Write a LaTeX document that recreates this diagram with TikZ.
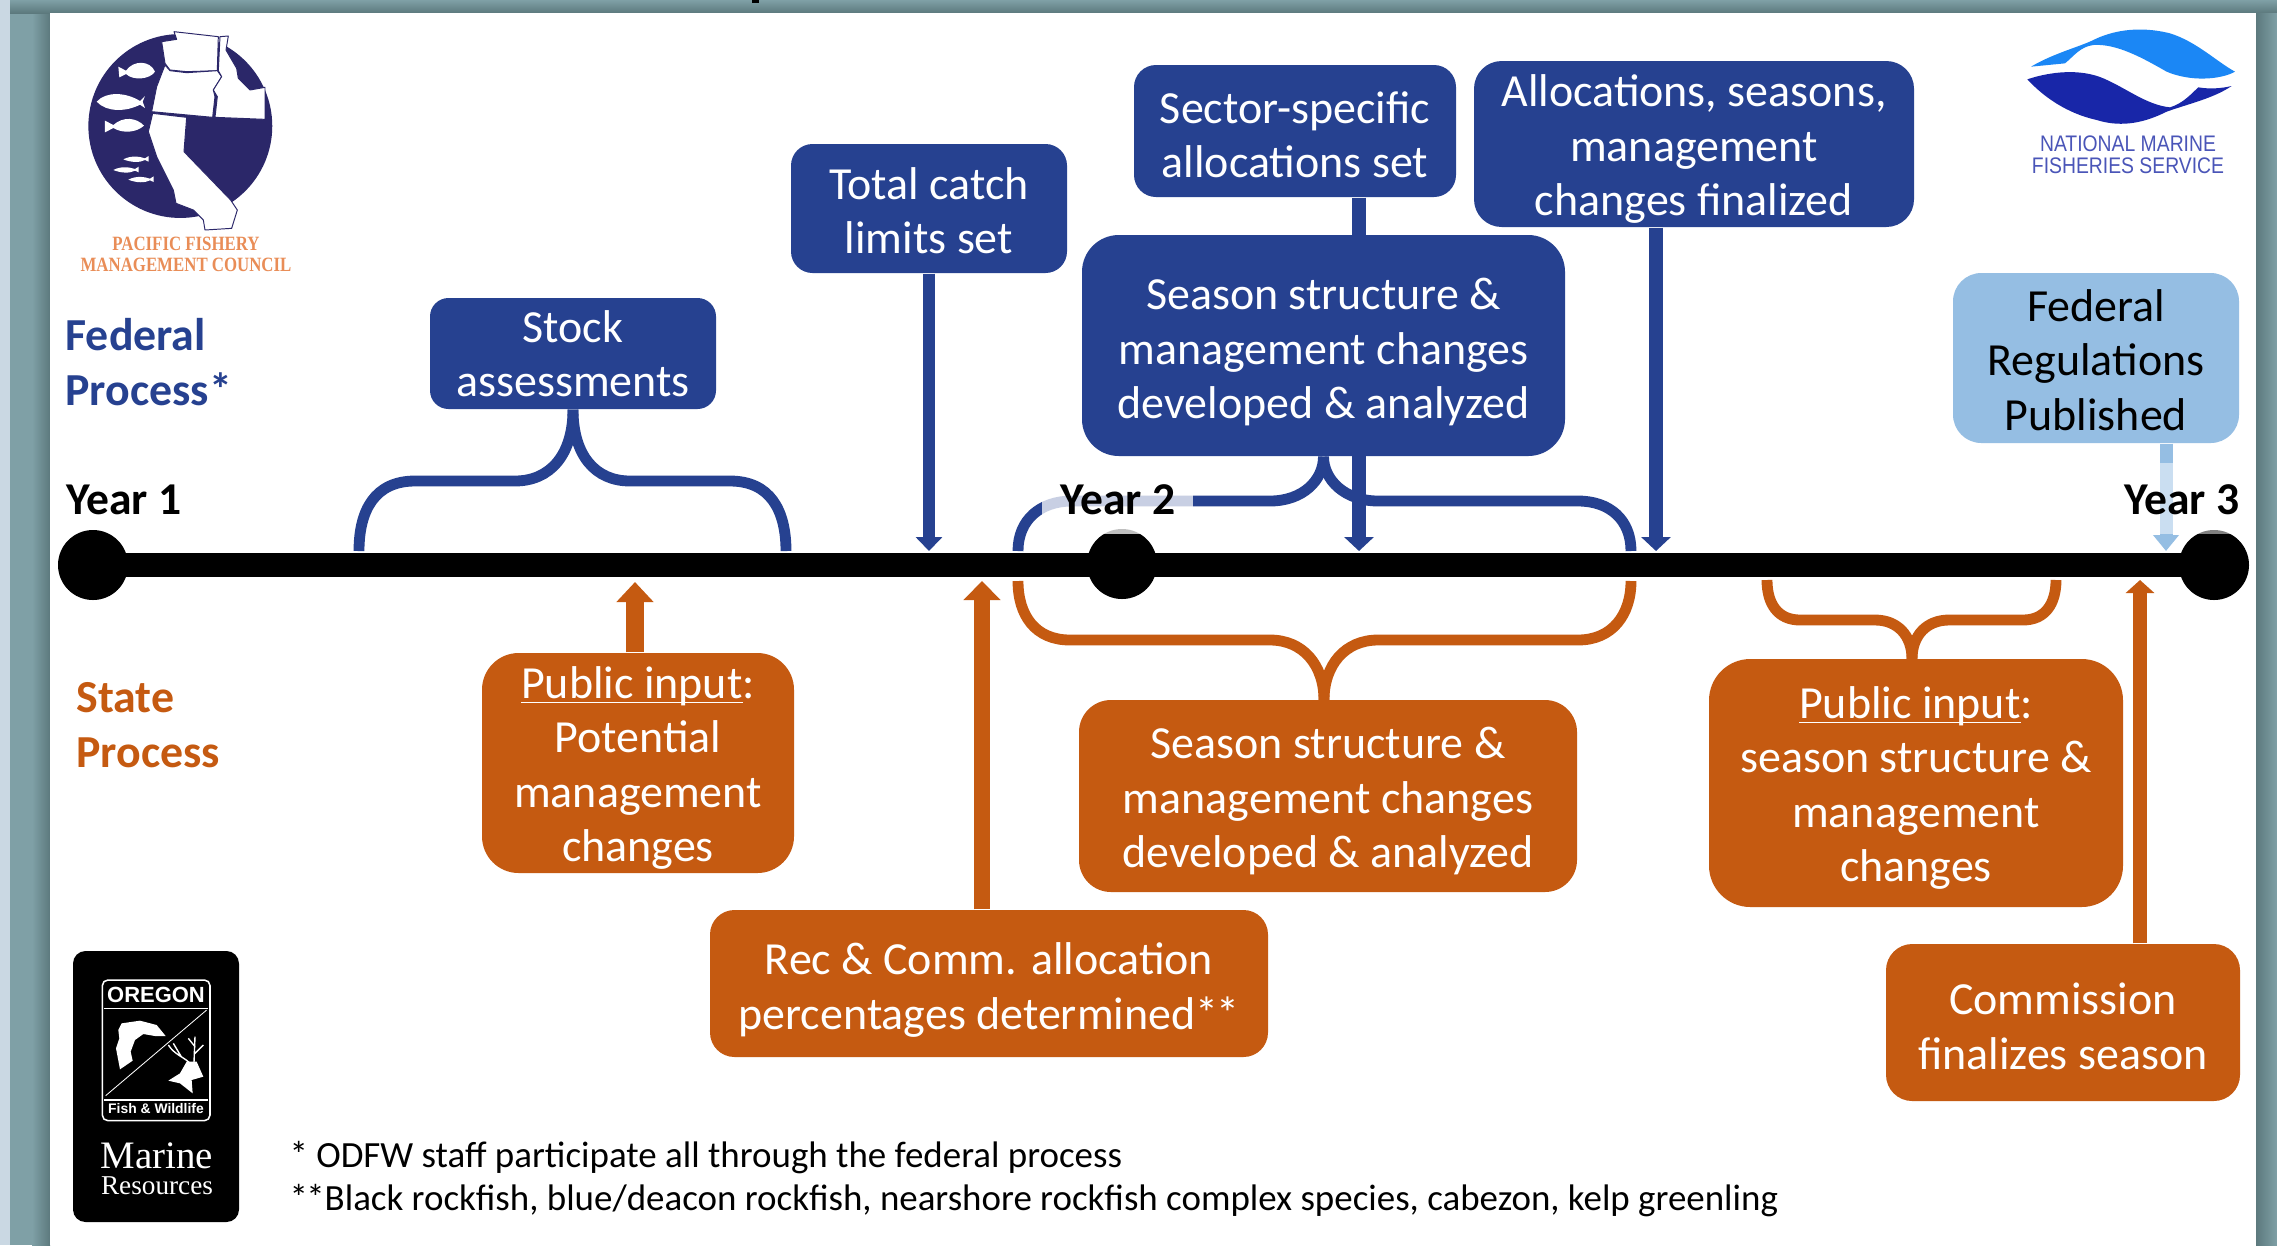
\documentclass[tikz,border=0pt]{standalone}
\usepackage{fontspec}
\setmainfont{Carlito}
\newfontfamily\lsans{Liberation Sans}
\newfontfamily\lserif{Liberation Serif}
\newfontfamily\pfmcfont[FakeStretch=.83]{Liberation Serif}
\newfontfamily\nmfsfont[FakeStretch=.86]{Liberation Sans}
\usetikzlibrary{arrows.meta}
\definecolor{fedblue}{HTML}{264190}
\definecolor{stateor}{HTML}{C55A11}
\definecolor{pubblue}{HTML}{95BEE3}
\definecolor{teal1}{HTML}{7FA0A6}
\definecolor{teal2}{HTML}{5C797D}
\definecolor{strip}{HTML}{CAD8E3}
\definecolor{pfmc}{HTML}{2B2769}
\definecolor{pfmcor}{HTML}{E98D57}
\definecolor{nmfsl}{HTML}{1B87F5}
\definecolor{nmfsd}{HTML}{1826A8}
\definecolor{nmfst}{HTML}{4A55B8}
\newcommand\dnr[1]{\rule{0pt}{\dimexpr12pt+#1\relax}}
\newcommand\pubul[1]{\underline{\smash{#1}}}
\tikzset{
  x=.36pt,y=-.36pt,
  sz/.style 2 args={minimum width=#1*.36pt,minimum height=#2*.36pt,rounded corners=#2*.06pt},
  tbox/.style={inner sep=0pt,align=center,text=white,font=\fontsize{16.55}{19.6}\selectfont},
  fedbox/.style={tbox,fill=fedblue},
  statebox/.style={tbox,fill=stateor},
  pubbox/.style={tbox,fill=pubblue,text=black},
  yearlbl/.style={inner sep=0pt,font=\fontsize{16.4}{19.6}\bfseries\selectfont},
  sidelbl/.style={inner sep=0pt,anchor=west,align=left,font=\fontsize{16.5}{19.6}\bfseries\selectfont},
  brc/.style={line width=3.9pt,line cap=butt},
  arr/.style n args={4}{line width=#1*.36pt,-{Triangle[length=#2*.36pt,width=#3*.36pt]},draw=#4},
  veil/.style={fill=white,fill opacity=#1,draw=none},
  lg/.style={fill=white,draw=pfmc,line width=.35pt,line join=round},
  fishw/.style={fill=white,draw=none},
  yeardot/.style={circle,fill=black,inner sep=0pt,minimum size=25.2pt},
}
\begin{document}
\begin{tikzpicture}
\useasboundingbox (0,0) rectangle (2277,1245);
% window background
\fill[teal1] (0,0) rectangle (2277,1245);
\fill[strip] (0,0) rectangle (10,1245);
\shade[left color=teal1,right color=teal2] (32,0) rectangle (50,1245);
\shade[top color=teal1,bottom color=teal2] (10,0) rectangle (2277,13);
\shade[left color=teal2,right color=teal1] (2256,13) rectangle (2277,1245);
\fill[white] (50,13) rectangle (2256,1245);
\fill[black] (752,0) rectangle (759,3);

% connectors under the boxes
\coordinate (tipStock) at (929,551);
\coordinate (tipSeason) at (1359,551);
\coordinate (tipAlloc) at (1656,551);
\coordinate (tipFed) at (2166,551);
\coordinate (tipPub) at (635,582);
\coordinate (tipRec) at (982,581);
\coordinate (tipCom) at (2140,580);

% boxes
\node[fedbox,sz={286}{111}] (stock) at (573,353.5) {Stock\\assessments};
\node[fedbox,sz={276}{129}] (catch) at (929,208.5) {\dnr{1pt}Total catch\\limits set};
\node[fedbox,sz={322}{132}] (sector) at (1295,131) {\dnr{2.1pt}Sector-specific\\allocations set};
\node[fedbox,sz={440}{166}] (alloc) at (1694,144) {\dnr{3.2pt}Allocations, seasons,\\management\\changes finalized};
\node[pubbox,sz={286}{170}] (regs) at (2096,358) {\dnr{1pt}Federal\\Regulations\\Published};
\node[statebox,sz={312}{220}] (pub1) at (638,763) {\dnr{3.2pt}\pubul{Public input}:\\Potential\\management\\changes};
\node[statebox,sz={558}{147}] (rec) at (989,983.5) {\dnr{4.2pt}Rec \& Comm. allocation\\percentages determined*\kern-.6pt*};
\node[statebox,sz={498}{192}] (sstate) at (1328,796) {\dnr{3.2pt}Season structure \&\\management changes\\developed \& analyzed};
\node[statebox,sz={414}{248}] (pub2) at (1916,783) {\dnr{3.2pt}\pubul{Public input}:\\season structure \&\\management\\changes};
\node[statebox,sz={354}{157}] (comm) at (2063,1022.5) {\dnr{2.1pt}Commission\\finalizes season};

% arrows
\draw[arr={14}{14}{29}{fedblue}] (sector.south -| tipSeason) -- (tipSeason);
\node[fedbox,sz={483}{221}] (sfed) at (1323.5,345.5) {\dnr{4.2pt}Season structure \&\\management changes\\developed \& analyzed};
\draw[arr={12}{14}{26}{fedblue}] (catch.south) -- (tipStock);
\draw[arr={14}{14}{29}{fedblue}] (alloc.south -| tipAlloc) -- (tipAlloc);
\draw[arr={13}{16}{25}{pubblue}] (regs.south -| tipFed) -- (tipFed);
\draw[arr={18}{20}{36}{stateor}] (pub1.north -| tipPub) -- (tipPub);
\draw[arr={16}{19}{36}{stateor}] (rec.north -| tipRec) -- (tipRec);
\draw[arr={14}{13}{28}{stateor}] (comm.north -| tipCom) -- (tipCom);

% braces
\coordinate (b1l) at (359,551); \coordinate (b1r) at (786,551);
\draw[brc,fedblue] (b1l) .. controls (359,510) and (375,481) .. (415,481) -- (515,481) .. controls (550,481) and (573,455) .. (stock.south);
\draw[brc,fedblue] (b1r) .. controls (786,510) and (770,481) .. (730,481) -- (630,481) .. controls (595,481) and (573,455) .. (stock.south);
\coordinate (b2l) at (1018,551); \coordinate (b2r) at (1631,551);
\draw[brc,fedblue] (b2l) .. controls (1018,520) and (1040,501) .. (1072,501) -- (1270,501) .. controls (1303,501) and (1323.5,480) .. (sfed.south);
\draw[brc,fedblue] (b2r) .. controls (1631,520) and (1610,501) .. (1578,501) -- (1378,501) .. controls (1345,501) and (1323.5,480) .. (sfed.south);
\coordinate (o1l) at (1018,581); \coordinate (o1r) at (1631,581);
\coordinate (o1a) at (1324,700);
\draw[brc,stateor] (o1l) .. controls (1018,615) and (1035,640) .. (1070,640) -- (1270,640) .. controls (1303,640) and (1324,665) .. (o1a);
\draw[brc,stateor] (o1r) .. controls (1631,615) and (1612,640) .. (1578,640) -- (1378,640) .. controls (1345,640) and (1324,665) .. (o1a);
\coordinate (o2l) at (1767,580); \coordinate (o2r) at (2056,580);
\coordinate (o2a) at (1912,659);
\draw[brc,stateor] (o2l) .. controls (1767,604) and (1778,620) .. (1800,620) -- (1875,620) .. controls (1897,620) and (1912,635) .. (o2a);
\draw[brc,stateor] (o2r) .. controls (2056,604) and (2045,620) .. (2023,620) -- (1949,620) .. controls (1927,620) and (1912,635) .. (o2a);

% timeline
\node[yeardot] (y1) at (93,565) {};
\node[yeardot] (y2) at (1122,564) {};
\node[yeardot] (y3) at (2214,565) {};
\draw[line width=24*.36pt] (y1.center) -- (y3.center);

% year labels over translucent plates
\fill[veil=.75] (1042,484) rectangle (1193,534);
\fill[veil=.5] (2110,463) rectangle (2240,534);
\node[yearlbl] (ly1) at (124,500) {Year 1};
\node[yearlbl] (ly2) at (1118,500) {Year 2};
\node[yearlbl] (ly3) at (2182,500) {Year 3};

% side labels
\node[sidelbl,text=fedblue] (lfed) at (65,362) {Federal\\Process*};
\node[sidelbl,text=stateor] (lst) at (76,725) {State\\Process};

% footnotes
\node[inner sep=0pt,anchor=west,align=left,font=\fontsize{13.3}{15.7}\selectfont] (notes) at (289,1179) {* ODFW staff participate all through the federal process\\*\kern-.6pt*Black rockfish, blue/deacon rockfish, nearshore rockfish complex species, cabezon, kelp greenling};

% PFMC logo
\begin{scope}[x=.12pt,y=-.12pt]
\fill[pfmc] (541,378) circle [radius=33.1pt];
\draw[lg] (522,95) -- (655,110) -- (652,212) -- (560,215) -- (510,210) -- (495,190) -- (485,125) -- (530,118) -- cycle;
\draw[lg] (495,195) -- (510,212) -- (560,218) -- (652,212) -- (665,230) -- (640,270) -- (645,290) -- (638,352) -- (455,335) -- (470,260) -- cycle;
\draw[lg] (660,110) -- (685,108) -- (678,150) -- (710,205) -- (715,235) -- (750,270) -- (795,262) -- (795,358) -- (645,352) -- (652,290) -- (640,270) -- (665,230) -- (655,212) -- cycle;
\draw[lg] (458,340) -- (560,352) -- (552,455) -- (692,600) -- (712,630) -- (695,685) -- (615,690) -- (610,660) -- (580,630) -- (528,610) -- (520,570) -- (490,510) -- (470,470) -- (445,395) -- cycle;
\fill[fishw] (355,200) -- (378,212) .. controls (400,180) and (450,180) .. (465,215) .. controls (450,238) and (400,243) .. (378,222) -- (358,232) -- cycle;
\fill[fishw] (290,305) .. controls (320,272) and (380,278) .. (420,303) -- (435,288) -- (428,305) -- (435,324) -- (420,314) .. controls (380,335) and (320,338) .. (290,305) -- cycle;
\fill[fishw] (315,362) -- (340,375) .. controls (370,348) and (410,353) .. (432,377) .. controls (410,397) and (370,402) .. (340,384) -- (315,397) -- cycle;
\fill[fishw] (370,478) .. controls (395,465) and (420,470) .. (435,475) -- (446,468) -- (446,485) -- (435,480) .. controls (420,488) and (395,488) .. (370,478) -- cycle;
\fill[fishw] (340,510) .. controls (365,497) and (390,502) .. (405,507) -- (416,500) -- (416,517) -- (405,512) .. controls (390,520) and (365,520) .. (340,510) -- cycle;
\fill[fishw] (385,539) .. controls (410,526) and (435,531) .. (450,536) -- (461,529) -- (461,546) -- (450,541) .. controls (435,549) and (410,549) .. (385,539) -- cycle;
\end{scope}
\node[inner sep=0pt,align=center,text=pfmcor,font=\pfmcfont\bfseries\fontsize{7.3}{7.6}\selectfont] (pfmctxt) at (186,254.5) {PACIFIC FISHERY\\MANAGEMENT COUNCIL};

% NMFS logo
\begin{scope}[shift={(1950,0)},x=.12pt,y=-.12pt]
\fill[nmfsl] (243,200) .. controls (310,160) and (390,140) .. (430,120) .. controls (480,95) and (560,75) .. (660,100) .. controls (740,125) and (800,185) .. (855,215) .. controls (810,240) and (720,245) .. (650,215) .. controls (580,175) and (500,130) .. (430,135) .. controls (390,140) and (370,170) .. (345,190) -- cycle;
\fill[nmfsd] (232,238) .. controls (300,215) and (390,205) .. (460,235) .. controls (530,265) and (590,315) .. (660,322) .. controls (700,310) and (725,280) .. (745,262) .. controls (780,268) and (815,265) .. (845,258) .. controls (790,295) and (720,310) .. (650,335) .. controls (590,365) and (520,385) .. (440,360) .. controls (350,340) and (280,290) .. (232,238) -- cycle;
\end{scope}
\node[inner sep=0pt,align=center,text=nmfst,font=\nmfsfont\fontsize{8.1}{8}\selectfont] (nmfstxt) at (2128,155) {NATIONAL MARINE\\FISHERIES SERVICE};

% ODFW logo
\node[fill=black,rounded corners=4.5pt,inner sep=0pt,minimum width=166*.36pt,minimum height=271*.36pt] (odfw) at (156,1086.5) {};
\begin{scope}[shift={(40,930)},x=.12pt,y=-.12pt]
\draw[white,line width=.55pt,rounded corners=2pt] (187,150) rectangle (510,572);
\draw[white,line width=.4pt] (192,236) -- (505,236) (192,510) -- (505,510);
\draw[white,line width=.3pt] (197,497) -- (500,240);
\fill[white] (245,280) -- (300,272) -- (350,285) -- (377,318) -- (345,318) -- (310,312) -- (285,330) -- (272,365) -- (278,392) -- (240,418) -- (228,355) -- (238,325) -- (235,300) -- cycle;
\fill[white] (385,452) -- (420,430) -- (440,395) -- (470,395) -- (490,440) -- (455,450) -- (458,490) -- (420,460) -- cycle;
\draw[white,line width=.5pt] (448,398) .. controls (430,380) and (405,375) .. (385,345) (425,382) -- (400,340) (462,398) -- (465,320) (465,370) -- (490,345) (465,350) -- (445,325);
\end{scope}
\node[inner sep=0pt,text=white,font=\lsans\bfseries\fontsize{7.9}{8}\selectfont] (ore) at (156,995) {OREGON};
\node[inner sep=0pt,text=white,font=\lsans\bfseries\fontsize{5}{6}\selectfont] (fw) at (156,1109) {Fish \& Wildlife};
\node[inner sep=0pt,text=white,font=\lserif\fontsize{14}{15}\selectfont] (mar) at (157,1156) {Marine};
\node[inner sep=0pt,text=white,font=\lserif\fontsize{9.8}{10}\selectfont] (res) at (157,1186) {Resources};
\end{tikzpicture}
\end{document}
